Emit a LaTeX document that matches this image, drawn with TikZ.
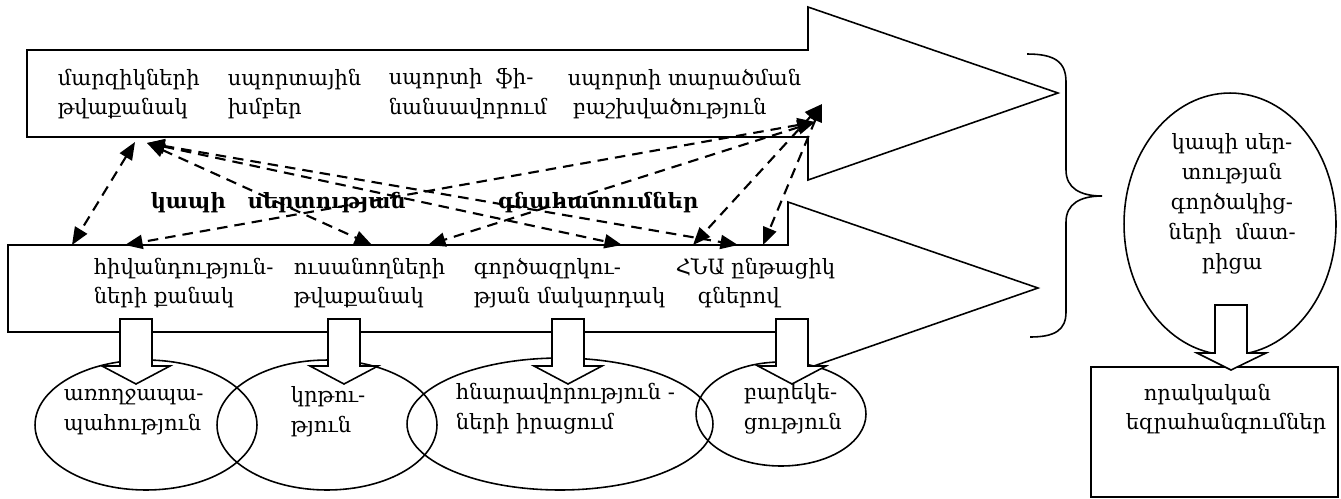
\documentclass[tikz,border=0pt]{standalone}
\usepackage{fontspec}
\setmainfont{DejaVu Serif}
\usetikzlibrary{arrows.meta}
\usetikzlibrary{shapes.geometric}

\tikzset{
    txt/.style={anchor=west, align=left, inner sep=0pt, font=\fontsize{12}{17}\selectfont},
    lbl/.style={anchor=west, inner sep=0pt, font=\fontsize{12}{17}\selectfont\bfseries},
    oval/.style={draw, ellipse, inner sep=0pt},
    blockdown/.style={draw, fill=white},
    tip/.style={{Triangle[length=10pt,width=8pt]}-{Triangle[length=10pt,width=8pt]}}
}

\begin{document}
\begin{tikzpicture}[x=0.02cm, y=-0.02cm, line width=0.9pt]
            \useasboundingbox (0,0) rectangle (1341,498);

            % the two big arrows
            \draw (27,50) -- (808,50) -- (808,7) -- (1058,93) -- (808,180) -- (808,137) -- (27,137) -- cycle;
            \draw (8,245) -- (788,245) -- (788,202) -- (1038,288) -- (788,375) -- (788,332) -- (8,332) -- cycle;

            % brace
            \draw (1027,54) .. controls (1055,54) and (1066,62) .. (1066,82) -- (1066,170)
                .. controls (1066,188) and (1080,196) .. (1102,196)
                .. controls (1080,196) and (1066,204) .. (1066,222) -- (1066,312)
                .. controls (1066,330) and (1055,337) .. (1030,337);

            % ovals and result box
            \node[oval, minimum width=4.44cm, minimum height=2.6cm] (e1) at (146,425) {};
            \node[oval, minimum width=4.4cm, minimum height=2.6cm] (e2) at (327,425) {};
            \node[oval, minimum width=6.12cm, minimum height=2.64cm] (e3) at (560,424) {};
            \node[oval, minimum width=3.4cm, minimum height=2.08cm] (e4) at (781,414) {};
            \node[oval, minimum width=4.24cm, minimum height=5.24cm] (er) at (1230,224) {};
            \node[draw, inner sep=0pt, minimum width=4.94cm, minimum height=2.6cm] (res) at (1214.5,432) {};

            % small block arrows
            \foreach \cx in {136,344,568,792} {
                \draw[blockdown] (\cx-16,319) -- (\cx+16,319) -- (\cx+16,366) -- (\cx+34,366)
                    -- (\cx,384) -- (\cx-34,366) -- (\cx-16,366) -- cycle;
            }
            \draw[blockdown] (1215,305) -- (1247,305) -- (1247,353) -- (1266,353)
                -- (1231,370) -- (1197,353) -- (1215,353) -- cycle;

            % texts
            \node[txt] (u1) at (57,94) {մարզիկների\\թվաքանակ};
            \node[txt] (u2) at (227,94) {սպորտային\\խմբեր};
            \node[txt] (u3) at (388,94) {սպորտի ~ֆի-\\նանսավորում};
            \node[txt] (u4) at (567,94) {սպորտի տարածման\\\hspace*{0.1cm}բաշխվածություն};

            \node[txt] (l1) at (93,283) {հիվանդություն-\\ների քանակ};
            \node[txt] (l2) at (293,283) {ուսանողների\\թվաքանակ};
            \node[txt] (l3) at (473,283) {գործազրկու-\\թյան մակարդակ};
            \node[txt] (l4) at (675,283) {ՀՆԱ ընթացիկ\\\hspace*{0.44cm}գներով};

            \node[txt] (t1) at (63,412) {առողջապա-\\պահություն};
            \node[txt] (t2) at (290,412) {կրթու-\\թյուն};
            \node[txt] (t3) at (455,409) {հնարավորություն -\\ների իրացում};
            \node[txt] (t4) at (743,409) {բարեկե-\\ցություն};

            \node[txt, anchor=center, align=center] (tr) at (1232,204) {կապի սեր-\\տության\\գործակից-\\ների ~մատ-\\րիցա};
            \node[txt] (tq) at (1125,409) {\hspace*{0.36cm}որակական\\եզրահանգումներ};

            \node[lbl] (k1) at (150,203) {կապի};
            \node[lbl] (k2) at (247,203) {սերտության};
            \node[lbl] (k3) at (497,203) {գնահատումներ};

            % ends of the dashed links
            \coordinate (pa) at (135,142);
            \coordinate (pb) at (147,143);
            \coordinate (pc) at (815,122);
            \coordinate (pd) at (822,104);
            \coordinate (q1) at (72,245);
            \coordinate (q2) at (125,245);
            \coordinate (q3) at (372,245);
            \coordinate (q4) at (428,245);
            \coordinate (q5) at (622,245);
            \coordinate (q6) at (693,245);
            \coordinate (q7) at (738,245);
            \coordinate (q8) at (763,245);

            \begin{scope}[every edge/.style={draw=black, line width=1.2pt, dash pattern=on 6pt off 4pt}]
                \path [tip] (pa) edge (q1);
                \path [tip] (pb) edge (q3);
                \path [tip] (pb) edge (q5);
                \path [tip] (pb) edge (q7);
                \path [tip] (pc) edge (q2);
                \path [tip] (pc) edge (q4);
                \path [tip] (pd) edge (q6);
                \path [tip] (pd) edge (q8);
            \end{scope}
        \end{tikzpicture}
\end{document}
